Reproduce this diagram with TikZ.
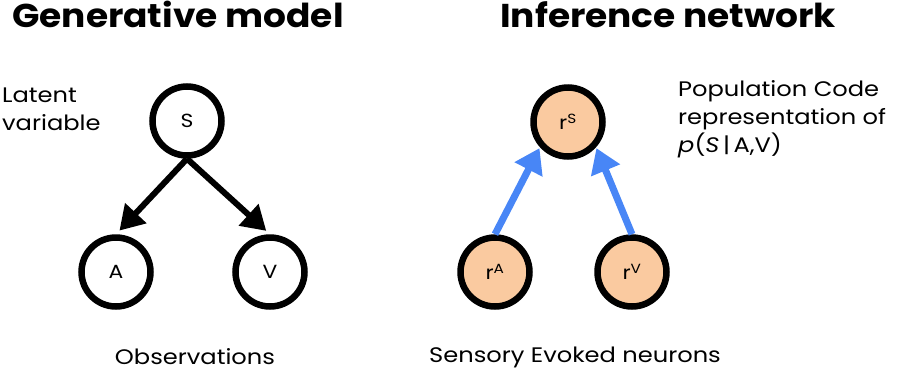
\documentclass[tikz,border=0pt]{standalone}
\usepackage{fontspec}
\setmainfont{Poppins}
\newfontfamily\bodyfont[FakeStretch=1.15]{Poppins}
\newfontfamily\titlefont[FakeStretch=1.09]{Poppins}
\usetikzlibrary{arrows.meta}
\definecolor{peach}{RGB}{250,202,160}
\definecolor{arrblue}{RGB}{72,134,246}
\begin{document}
\begin{tikzpicture}[x=1pt,y=-1pt,
  var/.style={circle,draw=black,line width=6.5pt,minimum size=69pt,inner sep=0pt,font=\bodyfont\fontsize{19}{22}\selectfont},
  neur/.style={var,fill=peach},
  genarr/.style={line width=6pt,-{Triangle[length=24pt,width=28pt]}},
  infarr/.style={line width=7pt,draw=arrblue,-{Triangle[length=24pt,width=30pt]},arrblue},
  title/.style={font=\titlefont\fontsize{33}{36}\selectfont\bfseries,anchor=base west,inner sep=0pt},
  lbl/.style={font=\bodyfont\fontsize{21}{28}\selectfont,inner sep=0pt}]
\useasboundingbox (0,0) rectangle (897,381);
\node[title] (t1) at (12,27) {Generative model};
\node[title] (t2) at (500,27) {Inference network};
\node[var] (S) at (187,121) {S};
\node[var] (A) at (116,272) {A};
\node[var] (V) at (270,272) {V};
\draw[genarr,shorten >=5pt] (S.south) -- (A.north);
\draw[genarr,shorten >=5pt] (S.south) -- (V.north);
\node[neur] (rS) at (568,122) {r\textsuperscript{S}};
\node[neur] (rA) at (495,272) {r\textsuperscript{A}};
\node[neur] (rV) at (632,272) {r\textsuperscript{V}};
\draw[infarr,shorten >=1pt] (rA.north) -- (rS.222);
\draw[infarr,shorten >=1pt] (rV.north) -- (rS.318);
\node[lbl,anchor=north west,align=left] (lat) at (2,88) {Latent\\variable};
\node[lbl,anchor=north west,align=left] (pop) at (678,80) {Population Code\\representation of\\\textit{p}(\textit{S}\,|\,A,V)};
\node[lbl] (obs) at (195,357) {Observations};
\node[lbl] (sen) at (575,357) {Sensory Evoked neurons};
\end{tikzpicture}
\end{document}
